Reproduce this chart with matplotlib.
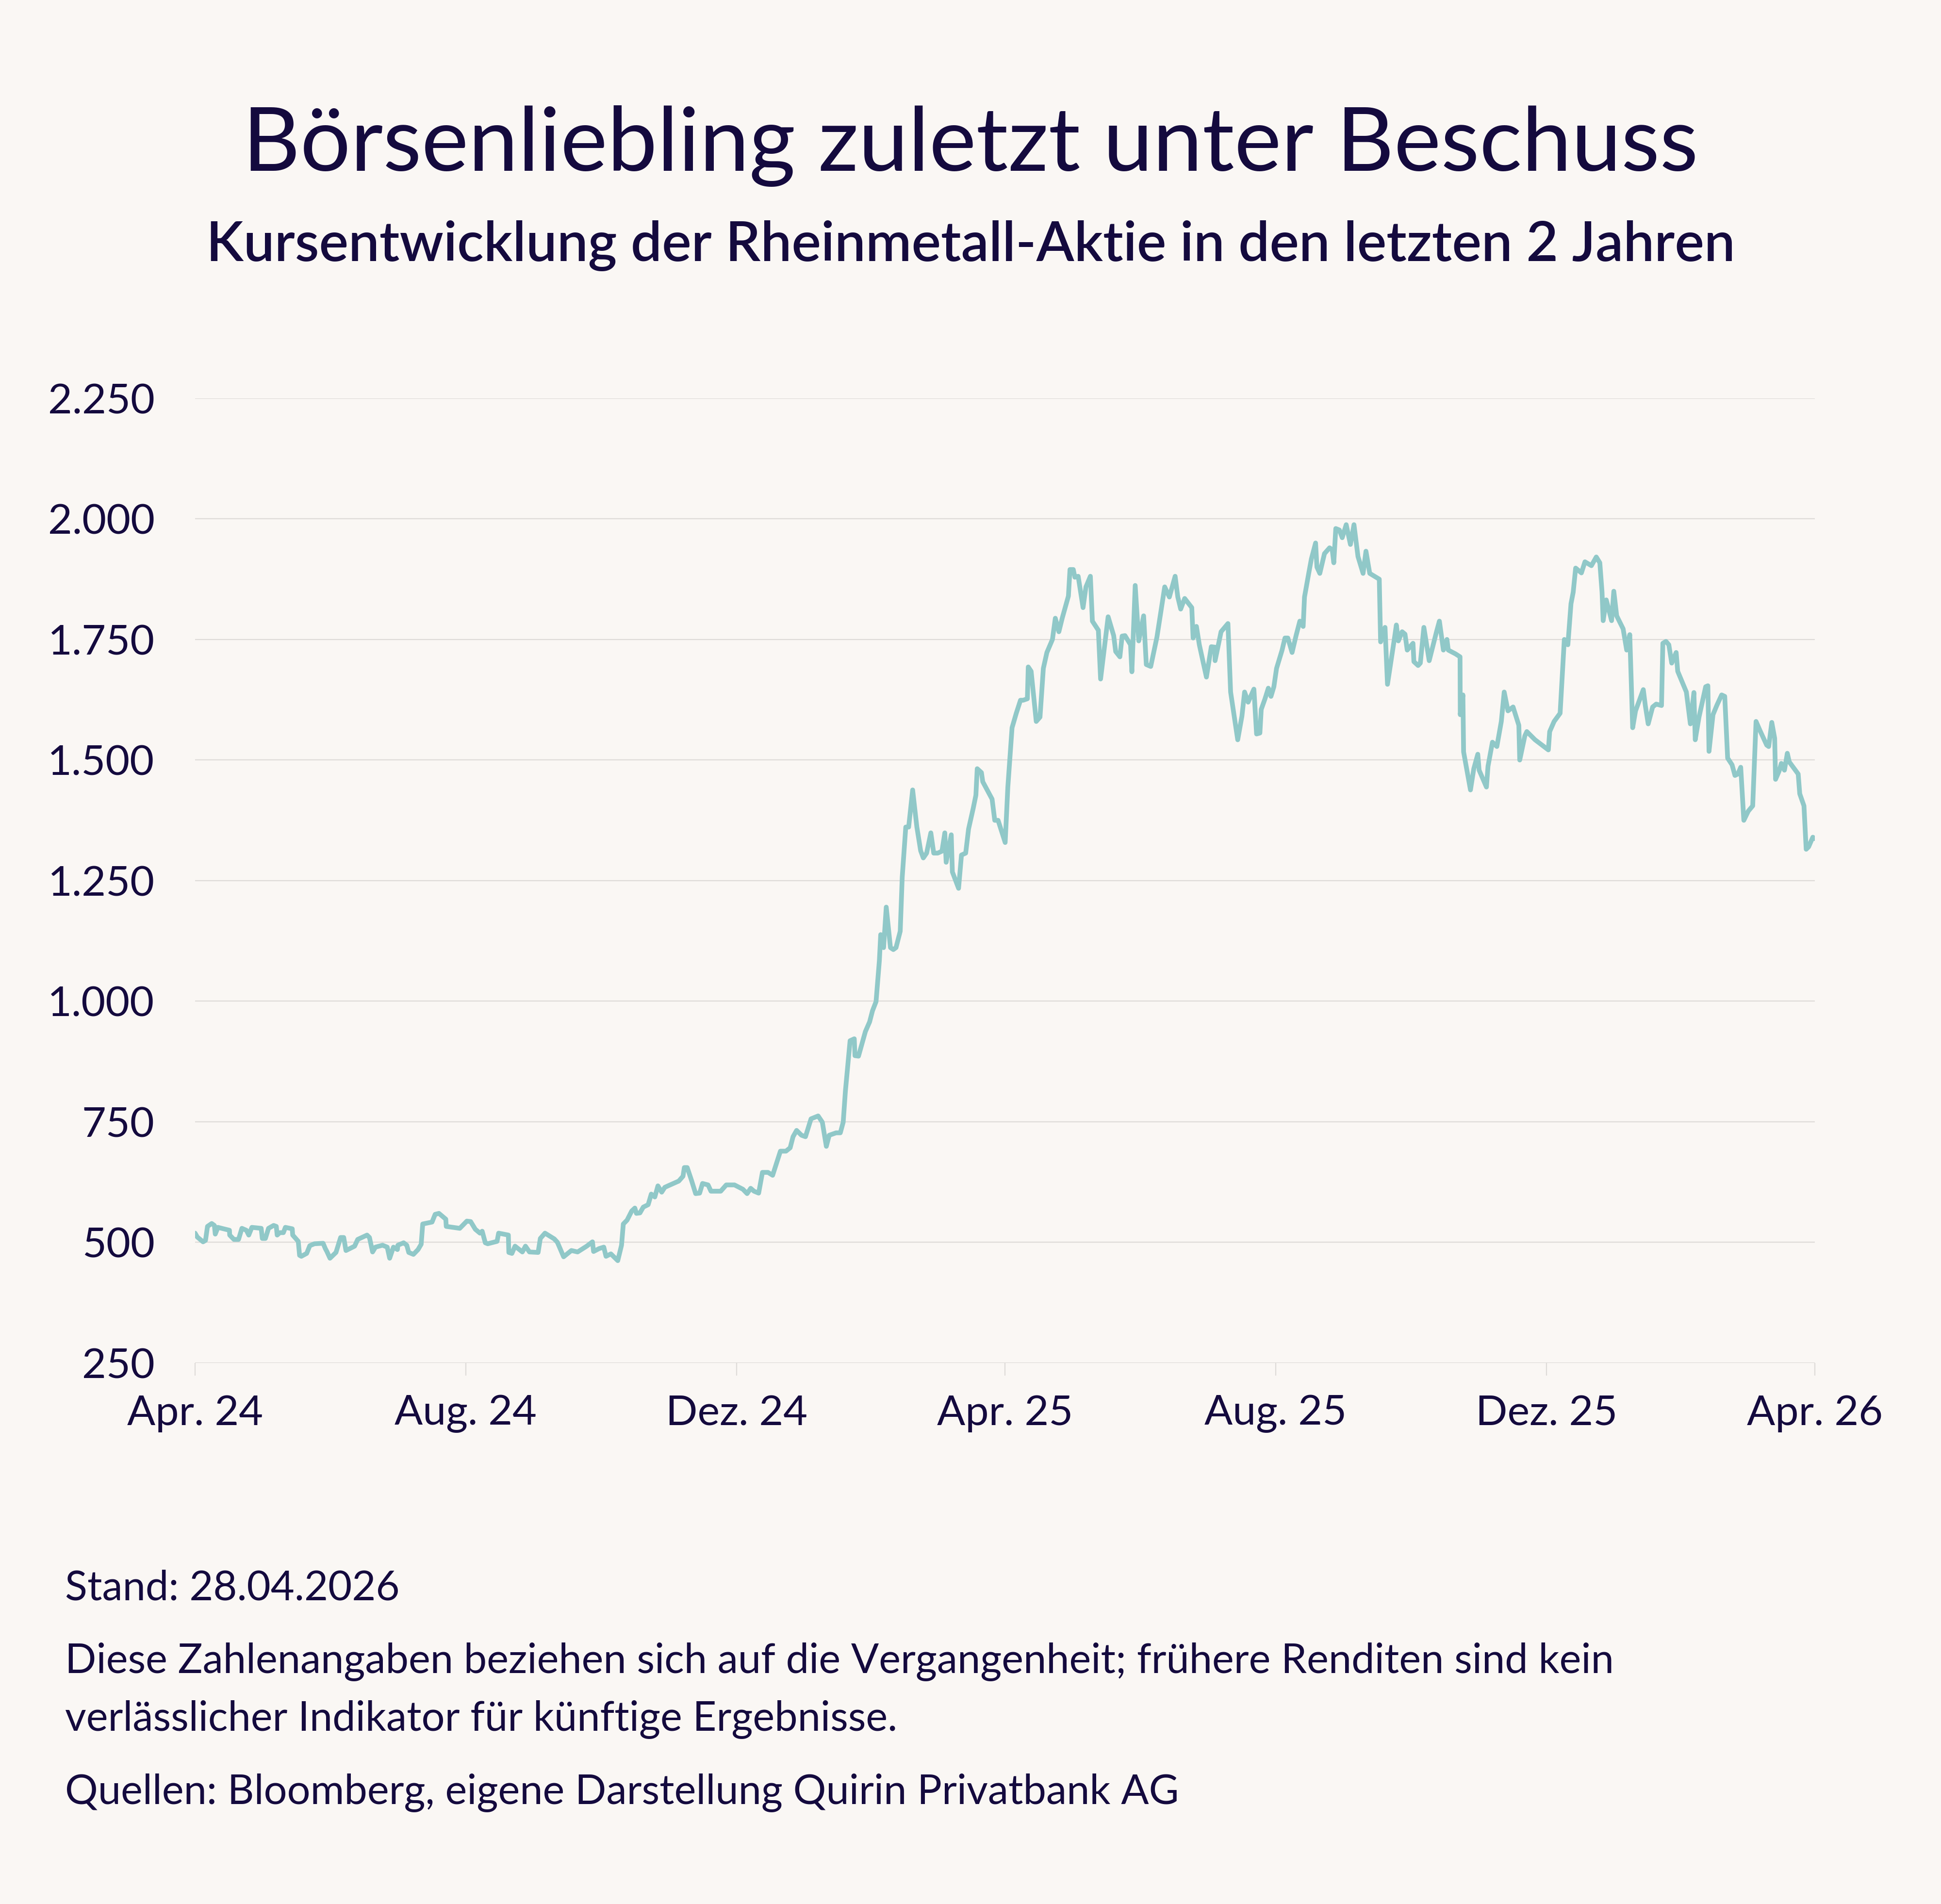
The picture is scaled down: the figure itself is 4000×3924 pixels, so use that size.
import matplotlib
matplotlib.use("Agg")
import matplotlib.pyplot as plt
import matplotlib.ticker as mticker
import pandas as pd

# ---- data ----
start_date = "2024-04-28"
end_date = "2026-04-28"
day_offsets = [
    0, 1, 3.6, 4.7, 5.6, 7.5, 8.7, 9.1, 10.3, 12, 15.5, 15.6, 17.5, 19.6, 21.1, 23.1, 24.2, 25.6,
    29.8, 30.3, 31.7, 33.1, 35.4, 36.6, 37, 38.2, 39.8, 40.7, 43.8, 44, 46.5, 47.1, 47.9, 50.3,
    51.7, 53.8, 57.7, 58.7, 59.4, 60.8, 63.5, 65.6, 67, 68, 71.9, 73.3, 77.5, 78.6, 80, 81.3,
    84.5, 86.6, 87.7, 89.4, 91.2, 91.4, 94, 95.4, 96.3, 98.4, 100.5, 101.9, 102.6, 106.8, 108.2,
    109.9, 113, 113.2, 119.3, 122.5, 124.2, 126.3, 128.4, 129.4, 130.8, 131.9, 136.1, 136.8,
    141.2, 141.4, 142.8, 144.2, 147.5, 148.9, 150.7, 154.6, 155.6, 157.7, 161.9, 163.3, 166.1,
    169.6, 172.4, 176.5, 179.1, 179.6, 182.1, 184.2, 185.2, 187.4, 189.4, 190.5, 192.2, 193,
    194.7, 196.8, 198.2, 198.9, 200.5, 202, 204.2, 205.6, 207.2, 208.6, 210.3, 211.7, 213.6,
    218, 219.9, 220.5, 221.8, 223.7, 225.6, 227.4, 228.7, 231.2, 232.5, 234.3, 236.9, 239.4,
    243.1, 246.9, 248.8, 250.4, 251.9, 254, 255.7, 258.2, 260.3, 263.8, 266.3, 268.2, 269.5,
    271.1, 273.3, 275.1, 277.6, 280.8, 282.7, 284.5, 285.8, 288.9, 290.8, 292.1, 293.1, 295.2,
    297.1, 297.4, 299, 302.1, 304, 305.3, 306.9, 308.4, 309, 310.3, 311.5, 313.4, 314.7, 315.9,
    317.8, 318.7, 320.3, 321.6, 323.4, 325.3, 327, 328.2, 329.7, 331.6, 332.9, 334.7, 336.6,
    337.9, 338.5, 340.8, 341.3, 344.1, 345.4, 347.3, 348.6, 350.7, 351.9, 352.5, 354.4, 355,
    359.2, 360.4, 361.9, 365.1, 366.3, 368.2, 370.1, 372, 373.2, 375.1, 375.5, 376.8, 379.1,
    380.8, 382.3, 383.9, 386.4, 387.7, 389.3, 390.8, 393.6, 394.3, 395.8, 396.5, 398, 400.2,
    401.5, 403.5, 404.4, 407.1, 408.1, 409.4, 411.5, 414, 414.9, 416.8, 417.8, 419.1, 421.6,
    422.2, 423.7, 425.3, 427.5, 428.7, 430.7, 433.5, 437, 439.1, 441.7, 442.9, 444.2, 446,
    449.2, 449.8, 451.3, 452.6, 455.8, 458, 459.6, 459.7, 462.4, 465.5, 466.7, 469.9, 471.8,
    473, 474.6, 477.2, 478.4, 479.9, 480.5, 482.2, 483.7, 484.9, 486.2, 487.4, 489.9, 491.2,
    492.5, 494.4, 496.2, 497.9, 499.4, 500, 501.9, 503.1, 505, 505.6, 506.9, 509, 511.3, 512.5,
    513.2, 514.1, 515.7, 517, 518.8, 520.7, 522.3, 524.1, 526.4, 527.7, 529.4, 533.7, 534.3,
    536.3, 537.4, 540.3, 541.4, 542.3, 544, 545.3, 546.3, 548.9, 549.3, 551.2, 552.2, 553.8,
    556.2, 559.5, 560.8, 562.6, 564.2, 564.8, 568.1, 570.1, 570.2, 571.4, 571.7, 574.8, 576.3,
    578.1, 578.7, 582, 582.7, 584.7, 586.7, 588.7, 590, 591.7, 594, 596.6, 597, 599.3, 600.2,
    603.9, 609.9, 610.5, 612.5, 615.2, 617.1, 618.7, 620.1, 621.1, 622.2, 624.8, 626.4, 629.3,
    631.5, 633.1, 634.1, 634.6, 636, 638.4, 639.4, 640.7, 643.6, 645.2, 646.6, 647.9, 649.2,
    652.7, 653.6, 654.9, 656.9, 658.5, 660.9, 661.5, 662.9, 664.2, 665.5, 667.5, 668.2, 670.2,
    672.1, 673.9, 675.5, 676.1, 677.8, 678.8, 680.8, 681.8, 682.3, 684.1, 685.8, 688, 689.4,
    690.7, 692.7, 694, 695.3, 696.6, 698, 700, 702, 703.5, 705.3, 708.3, 709.2, 710.6, 711.9,
    712.3, 713.9, 714.9, 716.3, 717.6, 718.5, 722.5, 723.2, 725.1, 726.1, 727.2, 729.1, 730,
]
prices = [
    519, 511, 501, 504, 533, 539, 535, 517, 531, 529, 525, 515, 506, 506, 529, 525, 515, 531,
    529, 508, 508, 529, 535, 533, 515, 520, 520, 531, 528, 515, 502, 473, 471, 477,
    493, 497, 498, 487, 481, 467, 479, 510, 510, 483, 492, 506, 515, 510, 480, 490,
    494, 490, 467, 490, 485, 494, 499, 494, 479, 475, 485, 496, 538, 542, 558,
    560, 548, 533, 529, 544, 543, 527, 519, 523, 499, 497, 502, 519,
    515, 479, 477, 492, 480, 492, 480, 479, 508, 519, 507, 500, 470,
    483, 480, 492, 501, 481, 487, 490, 471, 476, 467, 462, 494, 538,
    546, 565, 571, 560, 561, 573, 578, 600, 594, 617, 604, 614, 618,
    627, 637, 655, 655, 629, 601, 602, 622, 619, 606, 606, 606, 619,
    619, 610, 601, 612, 606, 602, 645, 645, 639, 689, 689, 696, 719,
    732, 722, 719, 756, 762, 749, 699, 722, 727, 727, 749, 814, 918,
    922, 887, 886, 937, 957, 980, 999, 1084, 1138, 1111, 1195, 1111, 1107, 1111,
    1145, 1257, 1361, 1361, 1438, 1361, 1312, 1297, 1307, 1349, 1307, 1307, 1311,
    1349, 1288, 1345, 1268, 1234, 1303, 1307, 1357, 1400, 1427, 1482, 1474, 1455,
    1419, 1375, 1375, 1329, 1444, 1567, 1597, 1624, 1624, 1627, 1693, 1684, 1580,
    1589, 1690, 1723, 1750, 1794, 1766, 1794, 1840, 1895, 1895, 1879, 1881, 1816,
    1859, 1881, 1788, 1769, 1668, 1717, 1797, 1758, 1725, 1714, 1757, 1758, 1739,
    1683, 1862, 1747, 1799, 1698, 1694, 1755, 1859, 1838, 1881, 1838, 1813, 1835,
    1816, 1753, 1777, 1739, 1672, 1735, 1734, 1706, 1766, 1783, 1641, 1542, 1591,
    1641, 1620, 1647, 1554, 1556, 1605, 1627, 1649, 1632, 1652, 1690, 1728, 1753,
    1753, 1723, 1758, 1788, 1777, 1838, 1887, 1917, 1950, 1900, 1887, 1928, 1940, 1936,
    1909, 1980, 1977, 1961, 1988, 1947, 1988, 1922, 1887, 1933, 1887, 1875, 1745,
    1775, 1657, 1745, 1780, 1747, 1766, 1761, 1728, 1742, 1704, 1696, 1701, 1775,
    1706, 1766, 1788, 1728, 1750, 1728, 1720, 1714, 1594, 1635, 1517, 1438, 1482,
    1512, 1479, 1444, 1487, 1537, 1528, 1580, 1641, 1602, 1610, 1572, 1500, 1550, 1559,
    1542, 1521, 1559, 1580, 1597, 1750, 1739, 1824, 1848, 1898, 1888, 1911, 1903,
    1921, 1909, 1848, 1789, 1832, 1789, 1850, 1799, 1772, 1728, 1760, 1567, 1602,
    1646, 1613, 1575, 1610, 1616, 1613, 1742, 1746, 1739, 1701, 1723, 1684, 1662,
    1641, 1575, 1640, 1542, 1589, 1610, 1652, 1654, 1518, 1594, 1613, 1635, 1632,
    1504, 1490, 1468, 1471, 1485, 1375, 1394, 1405, 1580, 1561, 1531, 1528, 1578, 1545,
    1460, 1477, 1493, 1479, 1514, 1496, 1471, 1430, 1405, 1315, 1320, 1340, 1337,
]
tick_dates = ["2024-04-28", "2024-08-28", "2024-12-28", "2025-04-28",
              "2025-08-28", "2025-12-28", "2026-04-28"]
tick_labels = ["Apr. 24", "Aug. 24", "Dez. 24", "Apr. 25", "Aug. 25", "Dez. 25", "Apr. 26"]
y_ticks = [250, 500, 750, 1000, 1250, 1500, 1750, 2000, 2250]

title = "Börsenliebling zuletzt unter Beschuss"
subtitle = "Kursentwicklung der Rheinmetall-Aktie in den letzten 2 Jahren"
footer_lines = [
    "Stand: 28.04.2026",
    "Diese Zahlenangaben beziehen sich auf die Vergangenheit; frühere Renditen sind kein",
    "verlässlicher Indikator für künftige Ergebnisse.",
    "Quellen: Bloomberg, eigene Darstellung Quirin Privatbank AG",
]

# ---- style ----
BG = "#FAF7F4"
TXT = "#140A3E"
LINE = "#90C8C8"
GRID = "#DEDBD8"
plt.rcParams["font.family"] = ["Lato", "DejaVu Sans"]

dates = pd.Timestamp(start_date) + pd.to_timedelta(day_offsets, unit="D")

fig = plt.figure(figsize=(20, 19.62), dpi=200, facecolor=BG)
ax = fig.add_axes([0.1005, 0.2842, 0.8345, 0.5066], facecolor=BG)

ax.plot(dates, prices, color=LINE, lw=3.5, solid_joinstyle="round",
        solid_capstyle="round", zorder=3)

ax.set_xlim(pd.Timestamp(start_date), pd.Timestamp(end_date))
ax.set_ylim(250, 2250)
ax.set_yticks(y_ticks)
ax.yaxis.set_major_formatter(
    mticker.FuncFormatter(lambda v, p: f"{int(v):,}".replace(",", ".")))
ax.set_xticks(pd.to_datetime(tick_dates))
ax.set_xticklabels(tick_labels)

ax.grid(axis="y", color=GRID, lw=0.8, zorder=0)
for s in ax.spines.values():
    s.set_visible(False)
ax.tick_params(axis="y", length=0, pad=30, labelsize=31, labelcolor=TXT)
ax.tick_params(axis="x", length=9.5, width=0.8, color=GRID, pad=14,
               labelsize=31, labelcolor=TXT)

fig.text(0.5, 1 - 352 / 3924, title, ha="center", va="baseline",
         fontsize=66, color=TXT)
fig.text(0.5, 1 - 538 / 3924, subtitle, ha="center", va="baseline",
         fontsize=41, color=TXT, fontweight="semibold")

footer_y = [3297, 3447, 3566, 3717]
for line, yb in zip(footer_lines, footer_y):
    fig.text(134 / 4000, 1 - yb / 3924, line, ha="left", va="baseline",
             fontsize=30.5, color=TXT)

fig.savefig("out.png", dpi=200, facecolor=BG)
